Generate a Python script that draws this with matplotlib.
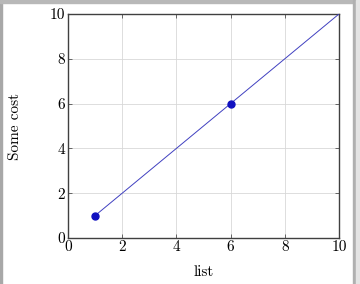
import matplotlib
matplotlib.use("Agg")
import matplotlib.pyplot as plt
from matplotlib.patches import Rectangle

line_x = [1, 10]
line_y = [1, 10]
point_x = [1, 6]
point_y = [1, 6]
ticks = [0, 2, 4, 6, 8, 10]
x_label = "list"
y_label = "Some cost"

plt.rcParams['font.family'] = ['cmr10', 'DejaVu Serif']
plt.rcParams['axes.formatter.use_mathtext'] = True

fig = plt.figure(figsize=(3.6, 2.84), dpi=100)
ax = fig.add_axes([68/360, 1-238/284, (339-68)/360, (238-14)/284])

ax.plot(line_x, line_y, color='#4040c0', lw=0.7, zorder=3)
ax.plot(point_x, point_y, 'o', color='#1010c0', ms=5, zorder=4)

ax.set_xlim(0, 10)
ax.set_ylim(0, 10)
ax.set_xticks(ticks)
ax.set_yticks(ticks)
ax.set_xticklabels([str(t) for t in ticks])
ax.set_yticklabels([str(t) for t in ticks])
ax.grid(True, color='#d8d8d8', lw=0.6)
ax.set_axisbelow(True)
ax.tick_params(direction='in', length=3, width=0.6, colors='#505050',
               labelcolor='black', labelsize=11, pad=2,
               top=True, right=True)
for s in ax.spines.values():
    s.set_color('#404040')
    s.set_linewidth(1.0)
ax.set_xlabel(x_label, fontsize=11, labelpad=8)
ax.set_ylabel(y_label, fontsize=11, labelpad=20)

# window frame
fig.patches.append(Rectangle((0, 0), 2/360, 1, transform=fig.transFigure, color='#a8a8a8', zorder=0))
fig.patches.append(Rectangle((0, 1-3/284), 1, 3/284, transform=fig.transFigure, color='#b8b8b8', zorder=0))
fig.patches.append(Rectangle((353/360, 0), 3/360, 1, transform=fig.transFigure, color='#b0b0b0', zorder=0))
fig.patches.append(Rectangle((356/360, 0), 4/360, 1, transform=fig.transFigure, color='#e4e4e4', zorder=0))

fig.savefig("out.png", dpi=100)
